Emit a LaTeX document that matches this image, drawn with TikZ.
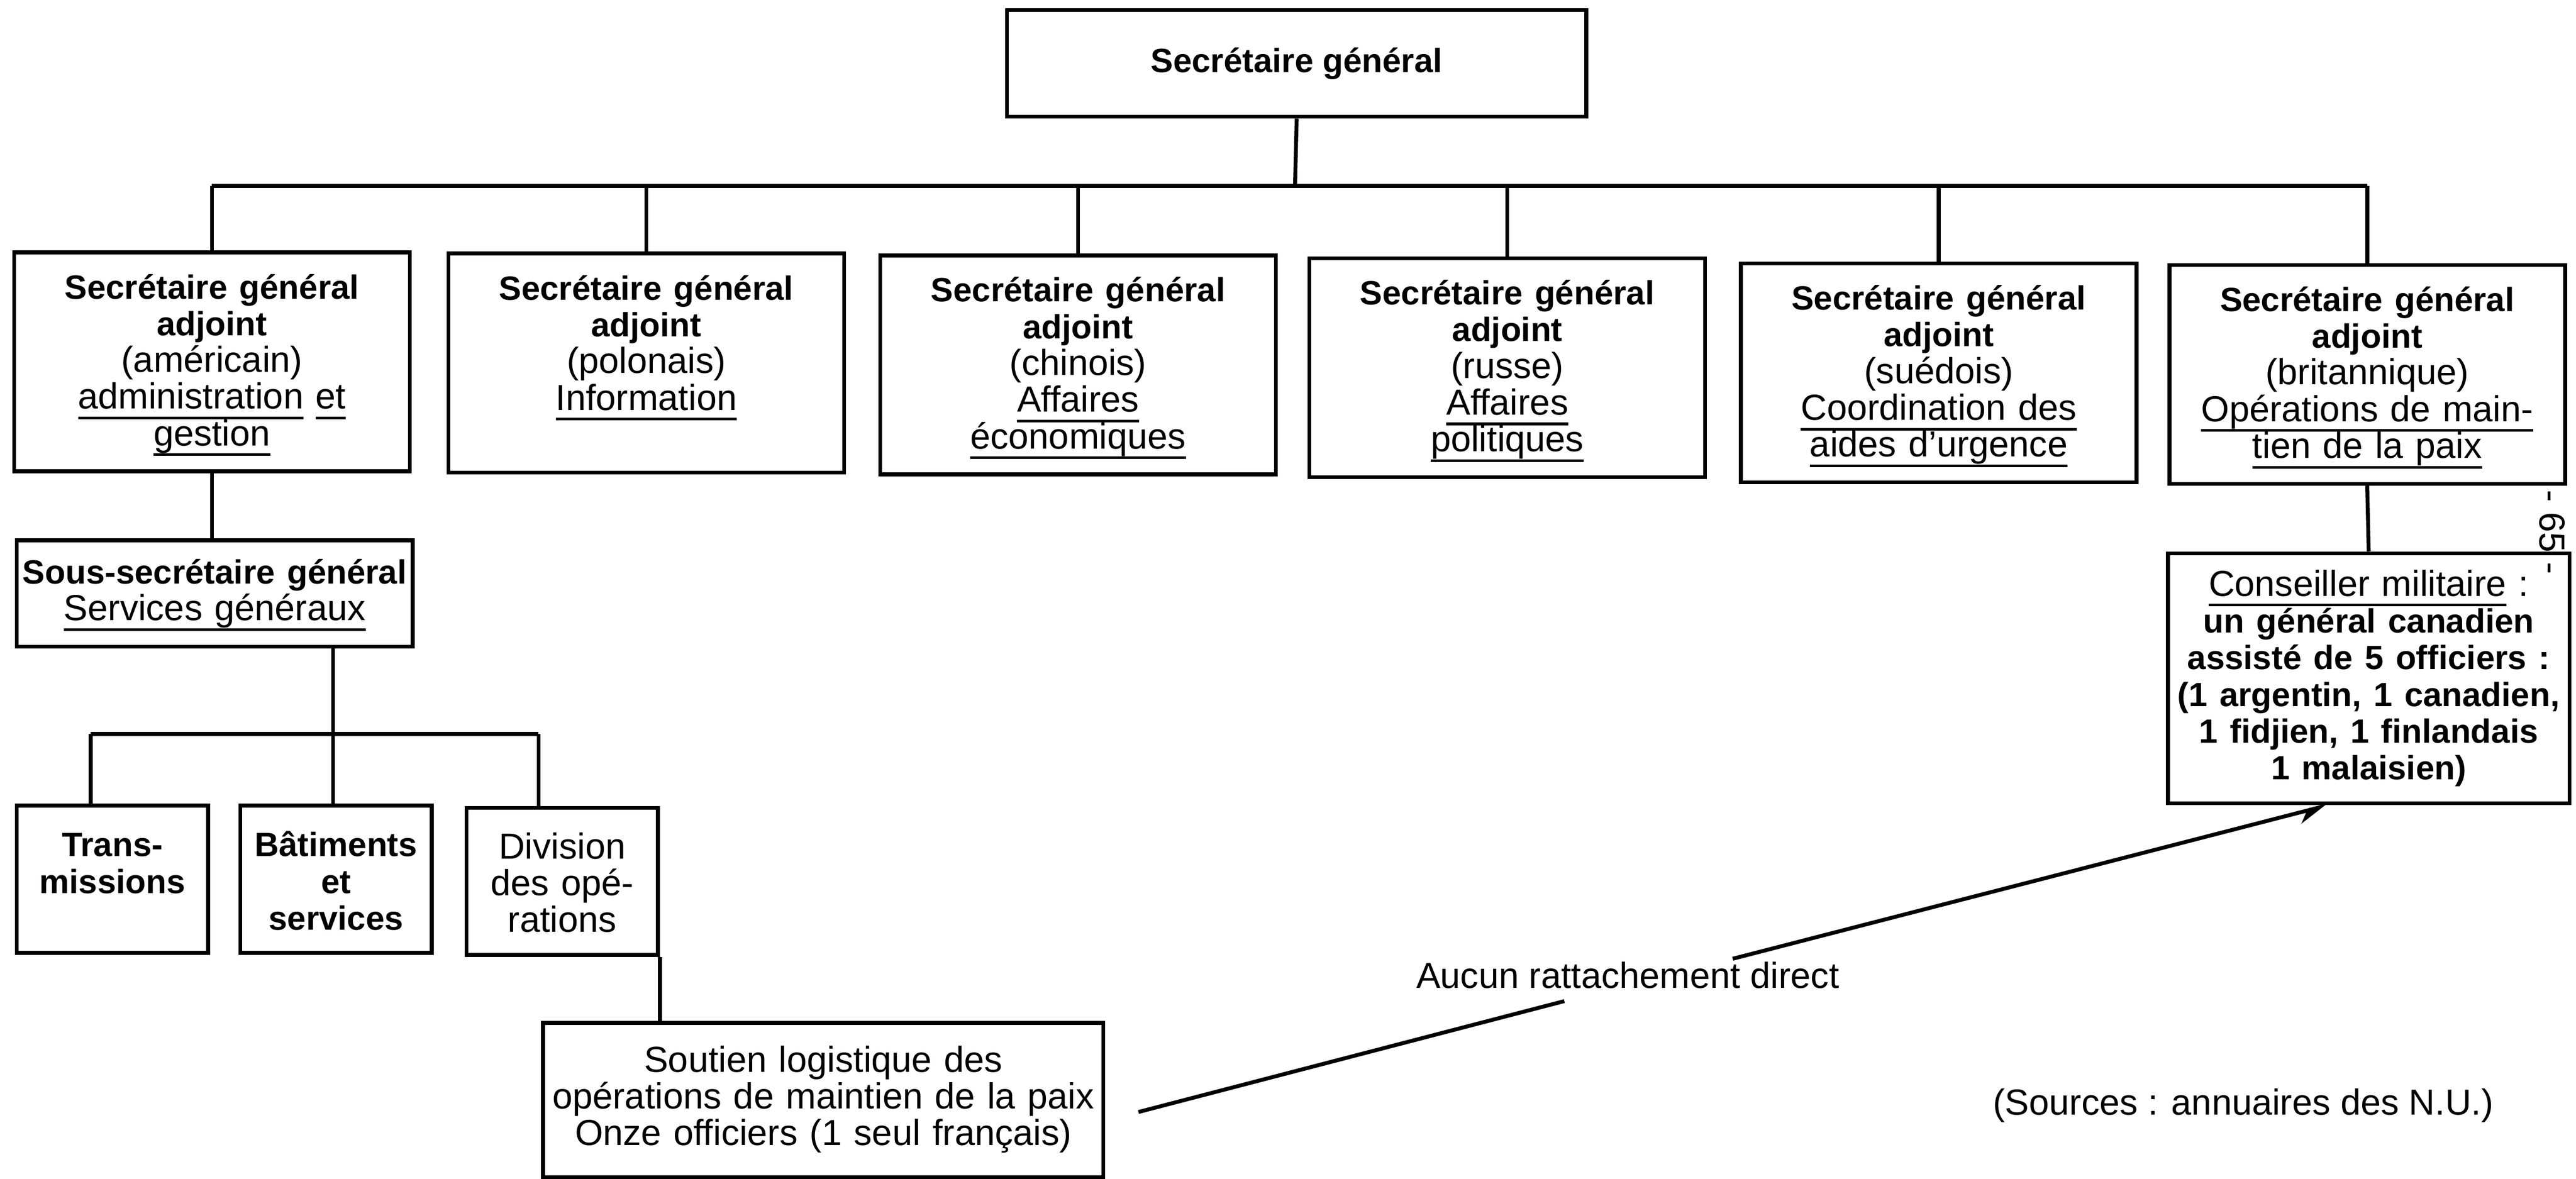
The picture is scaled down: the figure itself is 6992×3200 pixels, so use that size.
\documentclass[tikz,border=0pt]{standalone}
\usepackage{fontspec}
\setmainfont{Liberation Sans}
\usetikzlibrary{arrows.meta}
\newcommand\police{\fontsize{14}{14.2}\selectfont}
\newcommand\gras[1]{{\fontsize{13}{14.2}\selectfont\bfseries #1}}
\newcommand\souligne[1]{\leavevmode\setbox0\hbox{#1}\rlap{\smash{\rule[-4pt]{\wd0}{1pt}}}\box0\relax}
\tikzset{
  boite/.style={draw, line width=1.5pt, inner xsep=0.05cm, inner ysep=0.08cm, align=center, font=\police, anchor=north west},
  adj/.style={boite, text width=5.275cm, text height=0.55cm, text depth=2.265cm},
  petite/.style={boite, text width=2.5cm, text height=0.61cm, text depth=1.23cm},
  trait/.style={line width=1.5pt}
}
\begin{document}
\begin{tikzpicture}[x=0.005cm,y=-0.005cm]
 \useasboundingbox (0,0) rectangle (6992,3200);
 \node[boite, minimum width=7.87cm, minimum height=1.45cm] (sg) at (2728,22) {\gras{Secrétaire général}};
 \node[adj] (a1) at (33,680) {\gras{Secrétaire général}\\\gras{adjoint}\\(américain)\\\souligne{administration} \souligne{et}\\\souligne{gestion}};
 \node[adj] (a2) at (1212,683) {\gras{Secrétaire général}\\\gras{adjoint}\\(polonais)\\\souligne{Information}};
 \node[adj] (a3) at (2384,688) {\gras{Secrétaire général}\\\gras{adjoint}\\(chinois)\\\souligne{Affaires}\\\souligne{économiques}};
 \node[adj] (a4) at (3549,696) {\gras{Secrétaire général}\\\gras{adjoint}\\(russe)\\\souligne{Affaires}\\\souligne{politiques}};
 \node[adj] (a5) at (4720,710) {\gras{Secrétaire général}\\\gras{adjoint}\\(suédois)\\\souligne{Coordination des}\\\souligne{aides d'urgence}};
 \node[adj] (a6) at (5883,714) {\gras{Secrétaire général}\\\gras{adjoint}\\(britannique)\\\souligne{Opérations de main-}\\\souligne{tien de la paix}};
 \node[boite, text width=5.28cm, minimum height=1.445cm] (sous) at (40,1462) {\gras{Sous-secrétaire général}\\\souligne{Services généraux}};
 \node[petite] (trans) at (40,2182) {\gras{Trans-}\\\gras{missions}};
 \node[petite] (bat) at (647,2182) {\gras{Bâtiments}\\\gras{et}\\\gras{services}};
 \node[petite] (div) at (1261,2188) {Division\\des opé-\\rations};
 \node[boite, text width=7.51cm, text height=0.585cm, text depth=1.355cm] (sout) at (1469,2772) {Soutien logistique des\\opérations de maintien de la paix\\Onze officiers (1 seul français)};
 \node[boite, text width=5.355cm, minimum height=3.395cm] (cons) at (5879,1497) {\souligne{Conseiller militaire} :\\\gras{un général canadien}\\\gras{assisté de 5 officiers :}\\\gras{(1 argentin, 1 canadien,}\\\gras{1 fidjien, 1 finlandais}\\\gras{1 malaisien)}};
 \node[font=\police] (aucun) at (4418,2648) {Aucun rattachement direct};
 \node[font=\police] (src) at (6089,3002) {(Sources : annuaires des N.U.)};
 \node[font=\police, rotate=-90] (page) at (6927,1445) {- 65 -};
 \coordinate (bus) at (3515,505);
 \coordinate (t1) at (246,1993);
 \coordinate (t2) at (904,1993);
 \coordinate (t3) at (1462,1993);
 \coordinate (l1) at (4246,2718);
 \coordinate (l2) at (4703,2603);
 \draw[trait] (sg.south) -- (bus);
 \draw[trait] (a1.north |- bus) -- (a6.north |- bus);
 \foreach \n in {a1,a2,a3,a4,a5,a6}
  \draw[trait] (\n.north) -- (\n.north |- bus);
 \draw[trait] (a1.south) -- (a1.south |- sous.north);
 \draw[trait] (sous.south -| t2) -- (t2);
 \draw[trait] (t1) -- (t3);
 \draw[trait] (t1) -- (t1 |- trans.north);
 \draw[trait] (t2) -- (t2 |- bat.north);
 \draw[trait] (t3) -- (t3 |- div.north);
 \draw[trait] (div.south east) -- (div.south east |- sout.north);
 \draw[trait] (a6.south) -- (cons.north);
 \draw[trait] ([xshift=0.45cm,yshift=-0.16cm]sout.east) -- (l1);
 \draw[trait, -{Stealth[harpoon,swap,length=0.35cm,width=0.3cm]}] (l2) -- ([xshift=-0.55cm]cons.south);
\end{tikzpicture}
\end{document}
